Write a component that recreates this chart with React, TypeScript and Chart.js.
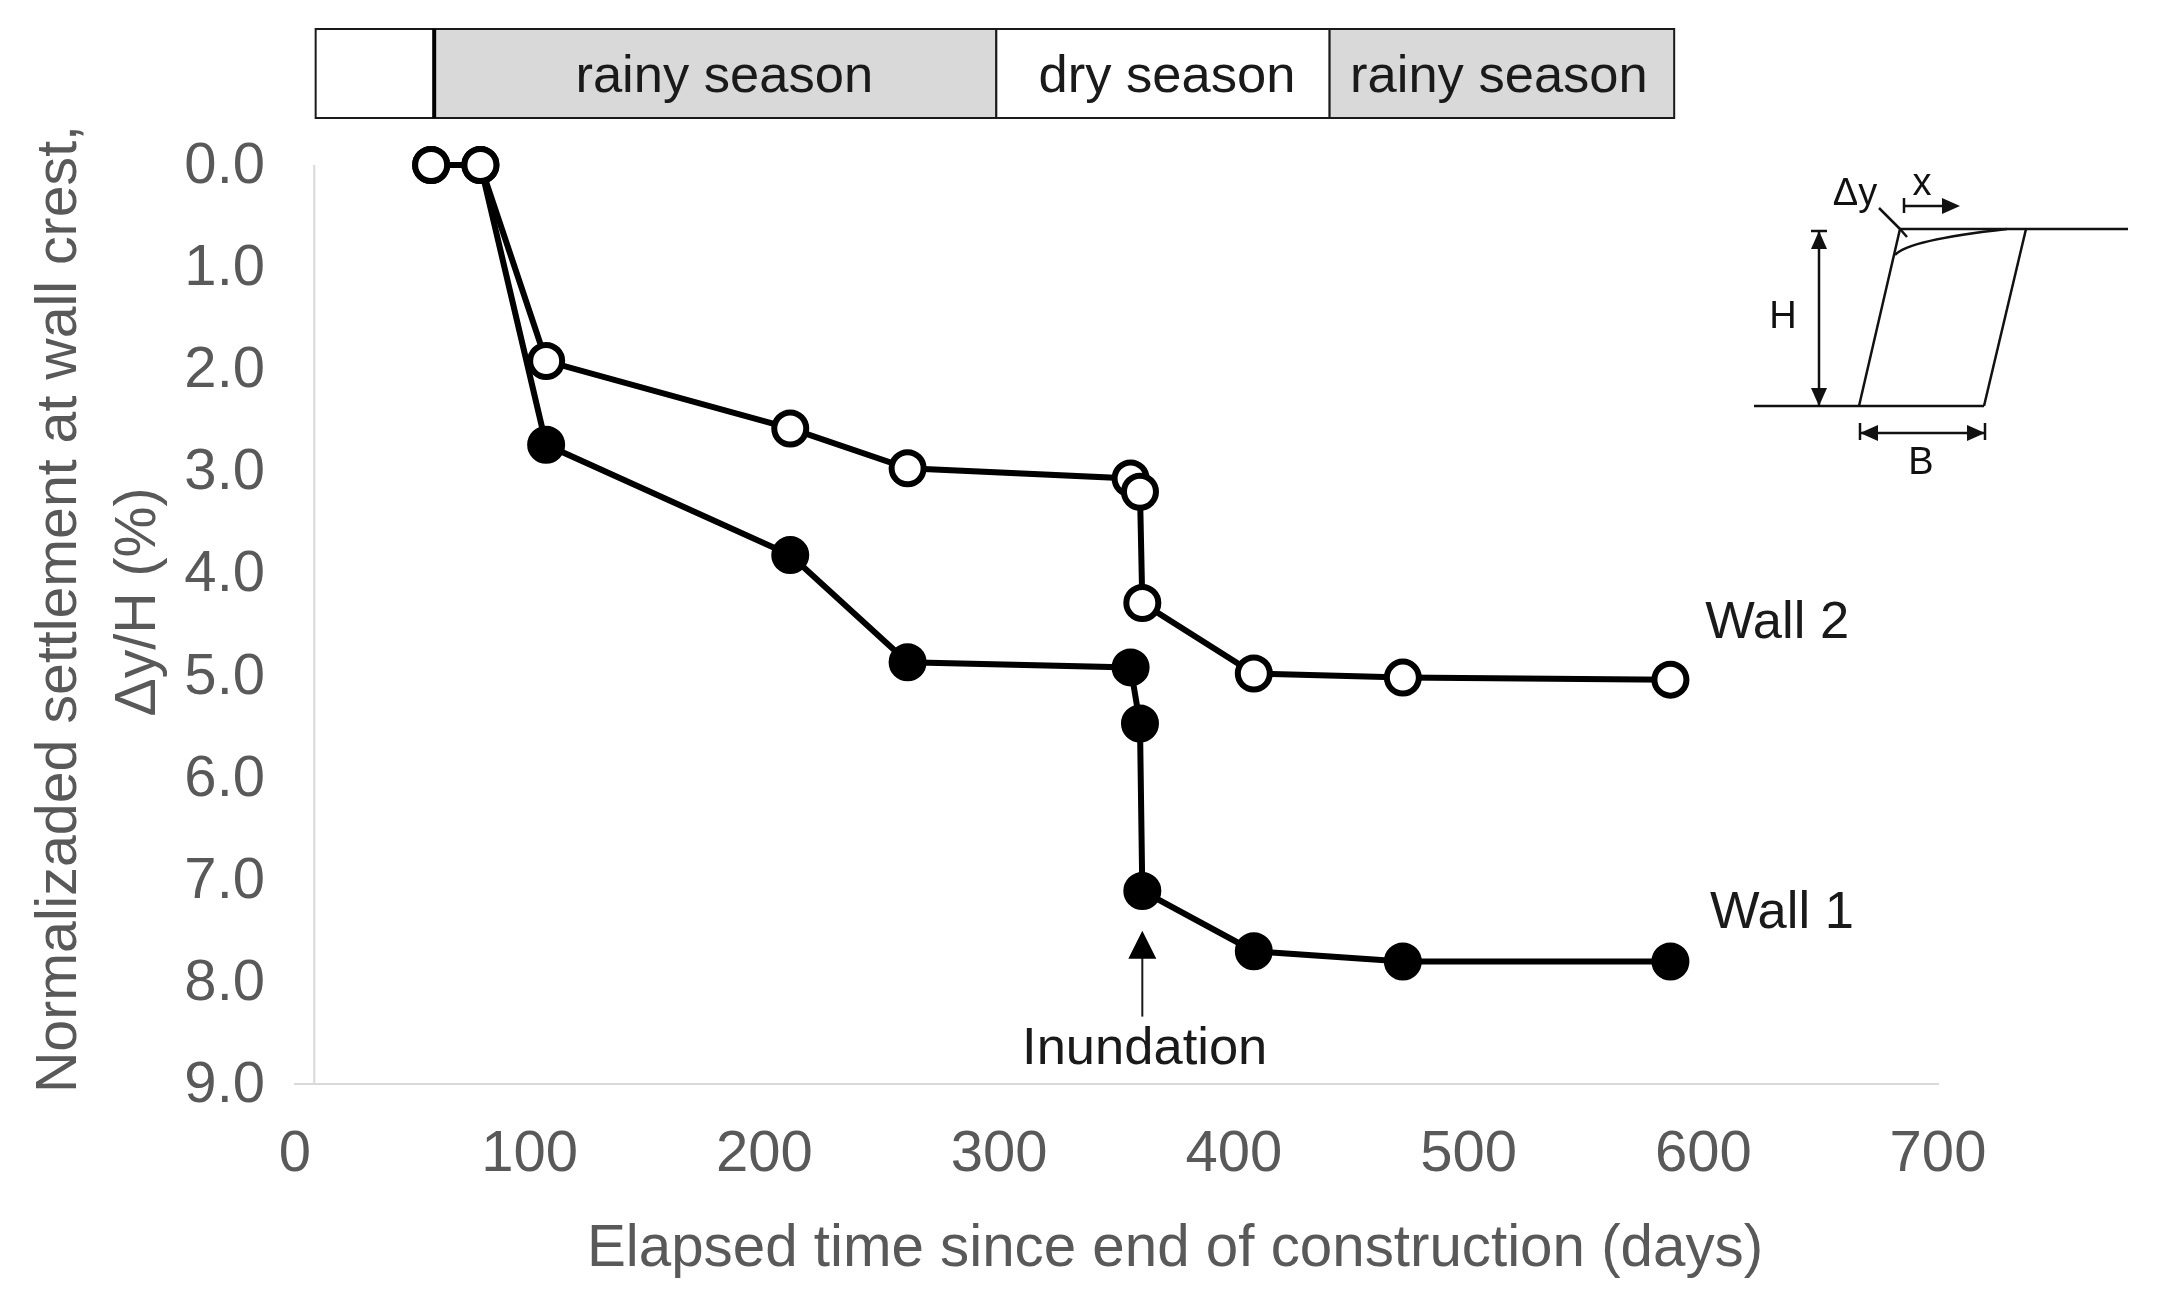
import React, { useEffect, useRef } from "react";
import { Chart, registerables } from "chart.js";

Chart.register(...registerables);

const wall2Days = [58, 79, 107, 211, 261, 356, 360, 361, 408.5, 472, 586];
const wall2Settlement = [0, 0, 1.92, 2.58, 2.97, 3.07, 3.2, 4.29, 4.98, 5.02, 5.04];
const wall1Days = [58, 79, 107, 211, 261, 356, 360, 361, 408.5, 472, 586];
const wall1Settlement = [0, 0, 2.74, 3.82, 4.87, 4.92, 5.47, 7.11, 7.7, 7.8, 7.8];
const seasonEdges = [8.8, 59.3, 298.8, 440.8, 587.6];
const seasonLabels = ["", "rainy season", "dry season", "rainy season"];
const seasonFills = ["#FFFFFF", "#D9D9D9", "#FFFFFF", "#D9D9D9"];
const yAxisCrossing = 8.2;
const FONT = '"Liberation Sans", Arial, sans-serif';

const toPoints = (xs: number[], ys: number[]) => xs.map((x, i) => ({ x, y: ys[i] }));

function arrowHead(ctx: CanvasRenderingContext2D, x: number, y: number, dx: number, dy: number, len: number, half: number) {
  ctx.beginPath();
  ctx.moveTo(x, y);
  ctx.lineTo(x - dx * len - dy * half, y - dy * len - dx * half);
  ctx.lineTo(x - dx * len + dy * half, y - dy * len + dx * half);
  ctx.closePath();
  ctx.fill();
}

function seg(ctx: CanvasRenderingContext2D, a: number, b: number, c: number, d: number) {
  ctx.beginPath();
  ctx.moveTo(a, b);
  ctx.lineTo(c, d);
  ctx.stroke();
}

const decorations = {
  id: "decorations",
  beforeDatasetsDraw(chart: any) {
    const { ctx, scales } = chart;
    const { x, y } = scales;
    ctx.save();
    ctx.strokeStyle = "#D9D9D9";
    ctx.lineWidth = 2;
    const ax = x.getPixelForValue(yAxisCrossing);
    seg(ctx, ax, y.top, ax, y.bottom);
    ctx.restore();
  },
  afterDraw(chart: any) {
    const { ctx, scales } = chart;
    const { x, y } = scales;
    ctx.save();
    ctx.textBaseline = "middle";
    ctx.textAlign = "center";

    // Season band
    const bandTop = 29;
    const bandH = 89;
    const labelShift = [0, 9, 4, -3];
    ctx.font = `52.5px ${FONT}`;
    seasonLabels.forEach((label, i) => {
      const l = x.getPixelForValue(seasonEdges[i]);
      const r = x.getPixelForValue(seasonEdges[i + 1]);
      ctx.fillStyle = seasonFills[i];
      ctx.fillRect(l, bandTop, r - l, bandH);
      ctx.strokeStyle = "#1a1a1a";
      ctx.lineWidth = 2;
      ctx.strokeRect(l, bandTop, r - l, bandH);
      ctx.fillStyle = "#1a1a1a";
      if (label) ctx.fillText(label, (l + r) / 2 + labelShift[i], bandTop + bandH / 2 + 4);
    });
    const firstEdge = x.getPixelForValue(seasonEdges[1]);
    ctx.strokeStyle = "#000";
    ctx.lineWidth = 4;
    seg(ctx, firstEdge, bandTop, firstEdge, bandTop + bandH);

    // Annotations
    ctx.fillStyle = "#1a1a1a";
    ctx.fillText("Wall 2", x.getPixelForValue(631.5), y.getPixelForValue(4.49));
    ctx.fillText("Wall 1", x.getPixelForValue(633.5), y.getPixelForValue(7.33));
    ctx.fillText("Inundation", x.getPixelForValue(362), y.getPixelForValue(8.66));
    const ix = x.getPixelForValue(361);
    ctx.strokeStyle = "#1a1a1a";
    ctx.lineWidth = 2;
    seg(ctx, ix, y.getPixelForValue(7.75), ix, y.getPixelForValue(8.34));
    ctx.fillStyle = "#000";
    arrowHead(ctx, ix, y.getPixelForValue(7.5), 0, -1, 28, 14);

    // Axis titles
    ctx.fillStyle = "#595959";
    ctx.font = `58.3px ${FONT}`;
    ctx.fillText("Elapsed time since end of construction (days)", 1175, 1250);
    ctx.font = `57.3px ${FONT}`;
    ctx.save();
    ctx.translate(60, 609);
    ctx.rotate(-Math.PI / 2);
    ctx.fillText("Normalizaded settlement at wall crest,", 0, 0);
    ctx.restore();
    ctx.save();
    ctx.translate(139, 602);
    ctx.rotate(-Math.PI / 2);
    ctx.fillText("\u0394y/H (%)", 0, 0);
    ctx.restore();

    // Inset sketch of the wall
    ctx.strokeStyle = "#111";
    ctx.fillStyle = "#111";
    ctx.lineWidth = 2.5;
    seg(ctx, 1900, 229, 2128, 229);
    seg(ctx, 1859, 406, 1900, 229);
    seg(ctx, 1984, 406, 2026, 229);
    seg(ctx, 1754, 406, 1984, 406);
    ctx.beginPath();
    ctx.moveTo(1895, 255);
    ctx.quadraticCurveTo(1908, 240, 2007, 229);
    ctx.stroke();
    seg(ctx, 1819, 231, 1819, 406);
    seg(ctx, 1811, 231, 1827, 231);
    arrowHead(ctx, 1819, 231, 0, -1, 18, 8);
    arrowHead(ctx, 1819, 406, 0, 1, 18, 8);
    seg(ctx, 1859, 433, 1985, 433);
    seg(ctx, 1860, 423, 1860, 440);
    seg(ctx, 1985, 423, 1985, 440);
    arrowHead(ctx, 1860, 433, -1, 0, 18, 8);
    arrowHead(ctx, 1985, 433, 1, 0, 18, 8);
    seg(ctx, 1904, 206, 1945, 206);
    seg(ctx, 1904, 198, 1904, 213);
    arrowHead(ctx, 1960, 206, 1, 0, 18, 8);
    seg(ctx, 1879, 208, 1900, 229);
    seg(ctx, 1900, 229, 1907, 237);
    ctx.font = `38px ${FONT}`;
    ctx.fillText("\u0394y", 1855, 195);
    ctx.fillText("x", 1922, 185);
    ctx.fillText("H", 1783, 318);
    ctx.fillText("B", 1921, 464);
    ctx.restore();
  },
};

export default function App() {
  const ref = useRef<HTMLCanvasElement>(null);
  useEffect(() => {
    document.body.style.margin = "0";
    const chart = new Chart(ref.current!, {
      type: "line",
      plugins: [decorations],
      data: {
        datasets: [
          {
            label: "Wall 2",
            data: toPoints(wall2Days, wall2Settlement),
            borderColor: "#000",
            borderWidth: 6,
            backgroundColor: "#FFFFFF",
            pointBackgroundColor: "#FFFFFF",
            pointBorderColor: "#000",
            pointBorderWidth: 6,
            pointRadius: 16,
            clip: false,
            order: 1,
          },
          {
            label: "Wall 1",
            data: toPoints(wall1Days, wall1Settlement),
            borderColor: "#000",
            borderWidth: 6,
            backgroundColor: "#000",
            pointBackgroundColor: "#000",
            pointBorderColor: "#000",
            pointBorderWidth: 6,
            pointRadius: 16,
            clip: false,
            order: 2,
          },
        ],
      },
      options: {
        animation: false,
        responsive: false,
        events: [],
        layout: { padding: { top: 165, right: 222, left: 0, bottom: 0 } },
        plugins: { legend: { display: false }, tooltip: { enabled: false }, title: { display: false } },
        scales: {
          x: {
            type: "linear",
            min: 0,
            max: 700,
            afterFit: (s: any) => { s.height = 221; },
            grid: { display: false, drawTicks: false },
            border: { display: true, color: "#D9D9D9", width: 2 },
            ticks: { stepSize: 100, color: "#595959", font: { family: FONT, size: 58 }, padding: 36, maxRotation: 0, autoSkip: false },
          },
          y: {
            type: "linear",
            min: 0,
            max: 9,
            reverse: true,
            afterFit: (s: any) => { s.width = 295; },
            grid: { display: false, drawTicks: false },
            border: { display: false },
            ticks: { stepSize: 1, color: "#595959", font: { family: FONT, size: 58 }, padding: 30, labelOffset: 2, callback: (v: any) => Number(v).toFixed(1) },
          },
        },
      },
    } as any);
    return () => chart.destroy();
  }, []);
  return <canvas ref={ref} width={2160} height={1305} style={{ display: "block" }} />;
}
